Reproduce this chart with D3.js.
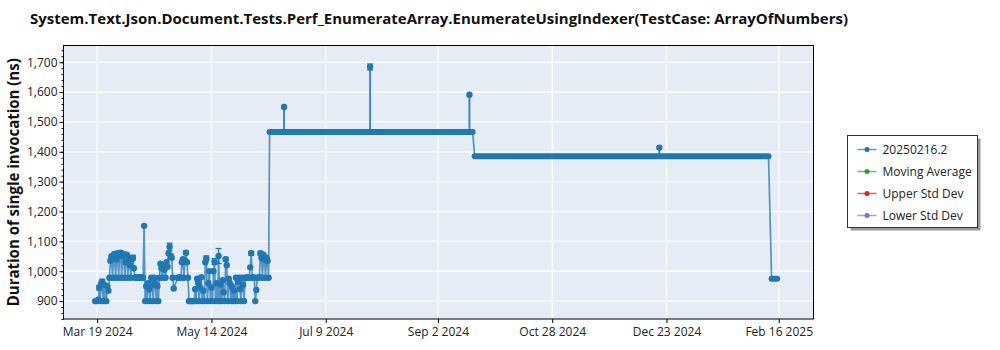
<!DOCTYPE html>
<html>
<head>
<meta charset="utf-8">
<script src="https://cdn.jsdelivr.net/npm/d3@7"></script>
<style>
  body { margin: 0; background: #fff; }
  text { font-family: "Open Sans", "Noto Sans", sans-serif; }
</style>
</head>
<body>
<div id="chart"></div>
<script>
"use strict";

// ---- data ----
const chartTitle = "System.Text.Json.Document.Tests.Perf_EnumerateArray.EnumerateUsingIndexer(TestCase: ArrayOfNumbers)";
const yLabel = "Duration of single invocation (ns)";
const legendNames = ["20250216.2", "Moving Average", "Upper Std Dev", "Lower Std Dev"];
const legendColors = ["#1f77b4", "#2ca02c", "#d62728", "#9467bd"];

// early noisy period, days counted from Mar 19 2024
const earlyStart = "2024-03-19T00:00";
const earlyDays = [
  -1, -0.5, 0, 0.5, 1, 1.5, 2, 2.5, 3, 3.5, 4, 4.5, 5, 5.5,
  6, 6.5, 7, 7.5, 8, 8.5, 9, 9.5, 10, 10.5, 11, 11.5, 12, 12.5, 13, 13.5, 14, 14.5, 15, 15.5, 16, 16.5,
  17, 17.5, 18, 18.5, 19, 19.5, 20, 20.5, 21, 21.5, 22, 22.5,
  23, 23.5, 24, 24.5, 25, 25.5, 26, 26.5, 27, 27.5, 28, 28.5, 29, 29.5, 30,
  30.5, 31, 31.5, 32, 32.5, 33, 33.5, 34, 34.5, 35, 35.5, 36, 36.5, 37, 37.5,
  39.5, 40, 40.5, 41, 41.5, 42, 42.5, 43, 43.5, 44, 44.5,
  45, 45.5, 46, 46.5, 47, 47.5, 48, 48.5, 49, 49.5, 50, 50.5, 51, 51.5, 52, 52.5, 53, 53.5, 54, 54.5,
  55, 55.5, 56, 56.5, 57, 57.5, 58, 58.5, 59, 59.5, 60, 60.5, 61, 61.5, 62, 62.5, 63, 63.5, 64, 64.5,
  65, 65.5, 66, 66.5, 67, 67.5, 68, 68.5, 69, 69.5, 70,
  70.5, 71, 71.5, 72, 72.5, 73, 73.5, 74, 74.5, 75, 75.5, 76, 76.5, 77, 77.5, 78, 78.5, 79, 79.5,
  80, 80.5, 81, 81.5, 82, 82.5, 83, 83.5, 84
];
const earlyValues = [
  900, 900, 900, 905, 945, 900, 960, 965, 900, 955, 900, 900, 950, 935,
  978, 1035, 1050, 978, 1045, 1058, 978, 1040, 1060, 978, 1055, 1062, 978, 1050, 1057, 978, 1030, 1055, 978, 1045, 1020, 978,
  1040, 1045, 1010, 978, 980, 978, 978, 980, 978, 978, 980, 978,
  1152, 900, 950, 900, 960, 940, 900, 978, 955, 900, 978, 960, 900, 950, 900,
  978, 1025, 1010, 978, 1020, 1005, 978, 1030, 1015, 1060, 1082, 1050, 1045, 978, 942,
  978, 978, 980, 978, 1030, 1040, 978, 1035, 1062, 1030, 978,
  900, 900, 900, 900, 900, 900, 940, 900, 975, 960, 900, 945, 980, 900, 935, 900, 1030, 1043, 900, 960,
  1000, 900, 945, 900, 1000, 1032, 900, 960, 900, 1051, 900, 955, 900, 970, 930, 900, 1040, 1020, 900, 975,
  960, 900, 950, 900, 935, 900, 978, 900, 965, 978, 940,
  900, 978, 955, 900, 978, 978, 980, 978, 978, 1013, 1060, 978, 980, 978, 900, 937, 978, 978, 980,
  1060, 1045, 978, 1055, 1040, 978, 1045, 1035, 978
];
// error bars on some of the early readings
const errDays = [1, 2.5, 8.5, 11.5, 13, 17.5, 25, 35.5, 36, 43.5, 53.5, 57.5, 59.5, 63, 75.5, 80, 82];
const errSize = [8, 8, 6, 6, 6, 8, 6, 12, 8, 6, 8, 10, 25, 6, 6, 6, 8];

// stable periods (one reading per run day)
const runStart = ["2024-06-11T12:00", "2024-09-20T00:00", "2025-02-12T12:00"];
const runEnd = ["2024-09-19T00:00", "2025-02-11T00:00", "2025-02-15T06:00"];
const runValue = [1466, 1385, 975];

// single outliers inside the stable periods
const spikeDates = ["2024-06-18T14:00", "2024-07-30T18:00", "2024-09-17T10:00", "2024-12-19T12:00"];
const spikeValues = [1550, 1684, 1591, 1414];
const spikeErr = [0, 10, 0, 0];

const xTicks = ["2024-03-19", "2024-05-14", "2024-07-09", "2024-09-02", "2024-10-28", "2024-12-23", "2025-02-16"];
const yTicks = [900, 1000, 1100, 1200, 1300, 1400, 1500, 1600, 1700];

// ---- layout ----
const width = 1000;
const height = 350;
const plot = { left: 63.5, right: 813.5, top: 45.5, bottom: 319 };
const blue = "#1f77b4";

const parseTime = d3.utcParse("%Y-%m-%dT%H:%M");
const parseDay = d3.utcParse("%Y-%m-%d");
const t0 = parseTime(earlyStart);
const dayMs = 86400000;
const atDay = (d) => new Date(t0.getTime() + d * dayMs);

const x = d3
  .scaleUtc()
  .domain([parseTime("2024-03-02T12:00"), parseTime("2025-03-05T01:00")])
  .range([plot.left, plot.right]);

const y = d3.scaleLinear().domain([840, 1756]).range([plot.bottom, plot.top]);

const svg = d3
  .select("#chart")
  .append("svg")
  .attr("width", width)
  .attr("height", height);

// title
svg
  .append("text")
  .attr("x", 30)
  .attr("y", 24)
  .attr("textLength", 818)
  .attr("lengthAdjust", "spacingAndGlyphs")
  .style("font-size", "15px")
  .style("font-weight", "bold")
  .style("fill", "#111")
  .text(chartTitle);

// plot background
svg
  .append("rect")
  .attr("x", plot.left)
  .attr("y", plot.top)
  .attr("width", plot.right - plot.left)
  .attr("height", plot.bottom - plot.top)
  .attr("fill", "#e5ecf6");

// grid
const grid = svg.append("g").attr("stroke", "#fff").attr("stroke-width", 1.3);
grid
  .selectAll("line.gy")
  .data(yTicks)
  .join("line")
  .attr("x1", plot.left)
  .attr("x2", plot.right)
  .attr("y1", (d) => y(d))
  .attr("y2", (d) => y(d));
grid
  .selectAll("line.gx")
  .data(xTicks.map(parseDay))
  .join("line")
  .attr("x1", (d) => x(d))
  .attr("x2", (d) => x(d))
  .attr("y1", plot.top)
  .attr("y2", plot.bottom);

// axes
const yAxis = d3
  .axisLeft(y)
  .tickValues(yTicks)
  .tickSize(4)
  .tickFormat(d3.format(","));
const yMinor = d3.axisLeft(y).tickValues(d3.range(840, 1756, 20)).tickSize(2).tickFormat("");
const xAxis = d3
  .axisBottom(x)
  .tickValues(xTicks.map(parseDay))
  .tickSize(4)
  .tickFormat(d3.utcFormat("%b %-d %Y"));

svg.append("g").attr("transform", `translate(${plot.left},0)`).call(yMinor);
const gy = svg.append("g").attr("transform", `translate(${plot.left},0)`).call(yAxis);
const gx = svg.append("g").attr("transform", `translate(0,${plot.bottom})`).call(xAxis);
svg.selectAll(".domain").remove();
gy.selectAll("text").attr("x", -6).style("font-size", "12px").style("fill", "#222");
gx.selectAll("text").attr("y", 8).style("font-size", "12px").style("fill", "#222");

// y label
svg
  .append("text")
  .attr("transform", `translate(19,${(plot.top + plot.bottom) / 2}) rotate(-90)`)
  .attr("text-anchor", "middle")
  .attr("textLength", 248)
  .attr("lengthAdjust", "spacingAndGlyphs")
  .style("font-size", "16px")
  .style("font-weight", "bold")
  .style("fill", "#111")
  .text(yLabel);

// ---- series ----
const early = earlyDays.map((d, i) => ({ date: atDay(d), value: earlyValues[i] }));
const runs = runStart.map((s, i) => ({ start: parseTime(s), end: parseTime(runEnd[i]), value: runValue[i] }));
const spikes = spikeDates.map((s, i) => {
  const date = parseTime(s);
  const run = runs.find((r) => date >= r.start && date <= r.end) || runs[0];
  return { date, value: spikeValues[i], base: run.value, err: spikeErr[i] };
});

// connecting line through the readings in time order
const linePoints = early.concat(
  runs.flatMap((r) => [{ date: r.start, value: r.value }, { date: r.end, value: r.value }])
);
const line = d3
  .line()
  .x((d) => x(d.date))
  .y((d) => y(d.value));

const series = svg.append("g");
series
  .append("path")
  .datum(linePoints)
  .attr("d", line)
  .attr("fill", "none")
  .attr("stroke", blue)
  .attr("stroke-opacity", 0.75)
  .attr("stroke-width", 1.7);

// stems to outliers
series
  .selectAll("line.stem")
  .data(spikes)
  .join("line")
  .attr("x1", (d) => x(d.date))
  .attr("x2", (d) => x(d.date))
  .attr("y1", (d) => y(d.base))
  .attr("y2", (d) => y(d.value))
  .attr("stroke", blue)
  .attr("stroke-opacity", 0.85)
  .attr("stroke-width", 2);

// stable runs: the markers are so dense they form a bar
series
  .selectAll("line.run")
  .data(runs)
  .join("line")
  .attr("x1", (d) => x(d.start))
  .attr("x2", (d) => x(d.end))
  .attr("y1", (d) => y(d.value))
  .attr("y2", (d) => y(d.value))
  .attr("stroke", blue)
  .attr("stroke-width", 6)
  .attr("stroke-linecap", "round");

// error bars
const errs = errDays
  .map((d, i) => {
    const idx = earlyDays.indexOf(d);
    return { date: atDay(d), value: earlyValues[idx], err: errSize[i] };
  })
  .concat(spikes.filter((s) => s.err > 0));
const eb = series.selectAll("g.err").data(errs).join("g").attr("stroke", blue).attr("stroke-width", 1.3);
eb.append("line")
  .attr("x1", (d) => x(d.date))
  .attr("x2", (d) => x(d.date))
  .attr("y1", (d) => y(d.value - d.err))
  .attr("y2", (d) => y(d.value + d.err));
eb.append("line")
  .attr("x1", (d) => x(d.date) - 3)
  .attr("x2", (d) => x(d.date) + 3)
  .attr("y1", (d) => y(d.value + d.err))
  .attr("y2", (d) => y(d.value + d.err));
eb.append("line")
  .attr("x1", (d) => x(d.date) - 3)
  .attr("x2", (d) => x(d.date) + 3)
  .attr("y1", (d) => y(d.value - d.err))
  .attr("y2", (d) => y(d.value - d.err));

// markers
series
  .selectAll("circle.pt")
  .data(early.concat(spikes))
  .join("circle")
  .attr("cx", (d) => x(d.date))
  .attr("cy", (d) => y(d.value))
  .attr("r", 3.2)
  .attr("fill", blue);

// frame
svg
  .append("rect")
  .attr("x", plot.left)
  .attr("y", plot.top)
  .attr("width", plot.right - plot.left)
  .attr("height", plot.bottom - plot.top)
  .attr("fill", "none")
  .attr("stroke", "#000")
  .attr("stroke-width", 1);

// ---- legend ----
const legend = svg.append("g").attr("transform", "translate(847.5,135.5)");
legend.append("rect").attr("x", 3).attr("y", 3).attr("width", 130).attr("height", 92).attr("fill", "#999");
legend.append("rect").attr("width", 130).attr("height", 92).attr("fill", "#fff").attr("stroke", "#333");
const items = legend
  .selectAll("g.item")
  .data(legendNames)
  .join("g")
  .attr("transform", (d, i) => `translate(0,${14 + i * 22})`);
items
  .append("line")
  .attr("x1", 10)
  .attr("x2", 29)
  .attr("stroke", (d, i) => legendColors[i])
  .attr("stroke-opacity", 0.7)
  .attr("stroke-width", 1.5);
items
  .append("circle")
  .attr("cx", 19.5)
  .attr("r", 2.5)
  .attr("fill", (d, i) => legendColors[i]);
items
  .append("text")
  .attr("x", 35)
  .attr("dy", "0.35em")
  .style("font-size", "12px")
  .style("fill", "#222")
  .text((d) => d);
</script>
</body>
</html>
